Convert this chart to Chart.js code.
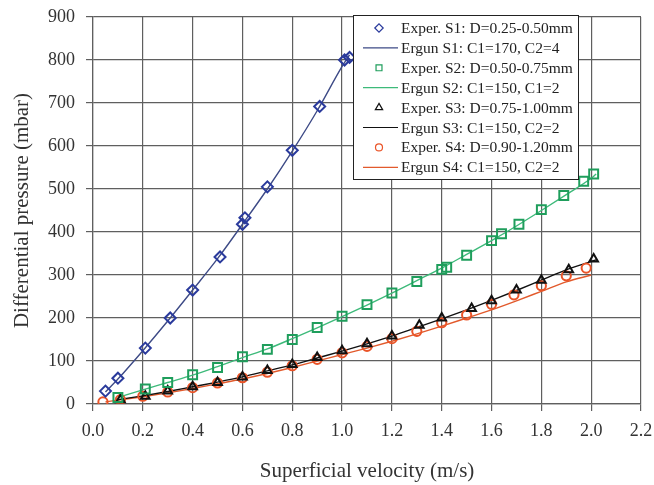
<!DOCTYPE html>
<html>
<head>
<meta charset="utf-8">
<script src="https://cdn.jsdelivr.net/npm/chart.js@4/dist/chart.umd.min.js"></script>
<style>
html,body{margin:0;padding:0;background:#fff;}
#wrap{width:654px;height:485px;position:relative;}
</style>
</head>
<body>
<div id="wrap"><canvas id="c" width="654" height="485"></canvas></div>
<script>
// ---- data ----
const xTicks = [0.0,0.2,0.4,0.6,0.8,1.0,1.2,1.4,1.6,1.8,2.0,2.2];
const yTicks = [0,100,200,300,400,500,600,700,800,900];

const s1ExpX = [0.05,0.10,0.21,0.31,0.40,0.51,0.60,0.61,0.70,0.80,0.91,1.01,1.03];
const s1ExpY = [30,60,130,200,265,342,418,433,505,590,692,800,806];
const s1ErgX = [0.05,0.10,0.20,0.30,0.40,0.50,0.60,0.70,0.80,0.90,1.00,1.03];
const s1ErgY = [28,58,124,193,265,338,418,500,588,682,785,812];

const s2ExpX = [0.10,0.21,0.30,0.40,0.50,0.60,0.70,0.80,0.90,1.00,1.10,1.20,1.30,1.40,1.42,1.50,1.60,1.64,1.71,1.80,1.89,1.97,2.01];
const s2ExpY = [15,35,50,68,85,110,127,150,178,204,231,258,285,313,318,346,380,396,418,452,485,518,535];
const s2ErgX = [0.10,0.20,0.30,0.40,0.50,0.60,0.70,0.80,0.90,1.00,1.10,1.20,1.30,1.40,1.50,1.60,1.70,1.80,1.90,2.00,2.02];
const s2ErgY = [15,33,50,67,87,108,128,152,177,203,230,258,287,316,348,380,414,450,487,525,535];

const s3ExpX = [0.11,0.21,0.30,0.40,0.50,0.60,0.70,0.80,0.90,1.00,1.10,1.20,1.31,1.40,1.52,1.60,1.70,1.80,1.91,2.01];
const s3ExpY = [10,18,30,40,50,63,78,92,108,124,140,158,183,200,222,240,265,288,312,337];
const s3ErgX = [0.10,0.20,0.30,0.40,0.50,0.60,0.70,0.80,0.90,1.00,1.10,1.20,1.30,1.40,1.50,1.60,1.70,1.80,1.90,2.02];
const s3ErgY = [10,19,29,40,51,63,77,91,107,123,140,158,178,198,219,241,264,288,312,335];

const s4ExpX = [0.04,0.11,0.20,0.30,0.40,0.50,0.60,0.70,0.80,0.90,1.00,1.10,1.20,1.30,1.40,1.50,1.60,1.69,1.80,1.90,1.98];
const s4ExpY = [5,10,18,28,38,49,61,74,89,104,119,134,152,169,189,207,232,254,275,298,316];
const s4ErgX = [0.05,0.10,0.20,0.30,0.40,0.50,0.60,0.70,0.80,0.90,1.00,1.10,1.20,1.30,1.40,1.50,1.60,1.70,1.80,1.90,2.00];
const s4ErgY = [5,9,17,26,36,47,58,71,85,100,115,130,146,163,181,200,219,240,262,284,300];

const labels = [
  "Exper. S1: D=0.25-0.50mm",
  "Ergun S1: C1=170, C2=4",
  "Exper. S2: D=0.50-0.75mm",
  "Ergun S2: C1=150, C1=2",
  "Exper. S3: D=0.75-1.00mm",
  "Ergun S3: C1=150, C2=2",
  "Exper. S4: D=0.90-1.20mm",
  "Ergun S4: C1=150, C2=2"
];

const pts = (xs, ys) => xs.map((x, i) => ({x: x, y: ys[i]}));

const cBlue = '#2a3a9c', cBlueLine = '#3d4a86';
const cGreen = '#1f9e5c', cGreenLine = '#3dba7a';
const cBlack = '#111111';
const cRed = '#ea5428', cRedLine = '#e25a2c';

function expSet(label, data, color, style, r) {
  return {label, data, showLine:false, pointStyle:style, pointRadius:r, pointHoverRadius:r,
    borderColor:color, backgroundColor:'rgba(0,0,0,0)', pointBorderWidth:2, order:1};
}
function ergSet(label, data, color) {
  return {label, data, showLine:true, pointRadius:0, borderColor:color, borderWidth:1.4,
    backgroundColor:color, tension:0.4, cubicInterpolationMode:'monotone', order:2};
}

const datasets = [
  expSet(labels[0], pts(s1ExpX, s1ExpY), cBlue, 'rectRot', 5.5),
  ergSet(labels[1], pts(s1ErgX, s1ErgY), cBlueLine),
  expSet(labels[2], pts(s2ExpX, s2ExpY), cGreen, 'rect', 6.3),
  ergSet(labels[3], pts(s2ErgX, s2ErgY), cGreenLine),
  expSet(labels[4], pts(s3ExpX, s3ExpY), cBlack, 'triangle', 5),
  ergSet(labels[5], pts(s3ErgX, s3ErgY), cBlack),
  expSet(labels[6], pts(s4ExpX, s4ExpY), cRed, 'circle', 4.6),
  ergSet(labels[7], pts(s4ErgX, s4ErgY), cRedLine)
];

const gridColor = '#5f5f5f';
const serif = '"Liberation Serif", "Times New Roman", serif';

new Chart(document.getElementById('c'), {
  type: 'scatter',
  data: { datasets },
  plugins: [{
    id: 'legendBox',
    afterDraw(chart) {
      const ctx = chart.ctx;
      const x0 = 353.5, y0 = 15.5, w = 225, h = 164;
      ctx.save();
      ctx.fillStyle = '#fff';
      ctx.fillRect(x0, y0, w, h);
      ctx.strokeStyle = '#222';
      ctx.lineWidth = 1;
      ctx.strokeRect(x0, y0, w, h);
      ctx.font = '15.5px ' + serif;
      ctx.textBaseline = 'middle';
      ctx.textAlign = 'left';
      chart.data.datasets.forEach((ds, i) => {
        const yc = 28 + i * 19.9;
        ctx.strokeStyle = ds.borderColor;
        ctx.fillStyle = 'rgba(0,0,0,0)';
        ctx.lineWidth = 1.2;
        if (ds.showLine) {
          ctx.beginPath();
          ctx.moveTo(363, yc);
          ctx.lineTo(398, yc);
          ctx.stroke();
        } else {
          Chart.helpers.drawPoint(ctx, {pointStyle: ds.pointStyle, radius: ds.pointStyle === 'circle' ? 3.5 : 4.2, borderWidth: 1.2, rotation: 0}, 379, yc);
        }
        ctx.fillStyle = '#222';
        ctx.fillText(ds.label, 401, yc + 1);
      });
      ctx.restore();
    }
  }],
  options: {
    responsive: false,
    animation: false,
    devicePixelRatio: 1,
    layout: { padding: { left: 0, right: 13, top: 17, bottom: 0 } },
    plugins: { legend: { display: false }, tooltip: { enabled: false } },
    scales: {
      x: {
        type: 'linear', min: 0, max: 2.2,
        afterBuildTicks(axis) { axis.ticks = xTicks.map(v => ({value: v})); },
        afterFit(axis) { axis.height = 81; axis.paddingLeft = 0; axis.paddingRight = 0; },
        ticks: { callback: v => v.toFixed(1), font: { family: serif, size: 18 }, color: '#333', padding: 9, maxRotation: 0 },
        grid: { color: gridColor, lineWidth: 1.2, tickLength: 7, tickColor: gridColor },
        border: { color: gridColor, width: 1.2 },
        title: { display: true, text: 'Superficial velocity (m/s)', font: { family: serif, size: 21 }, color: '#333', padding: { top: 0, bottom: 1 } }
      },
      y: {
        type: 'linear', min: 0, max: 900,
        afterBuildTicks(axis) { axis.ticks = yTicks.map(v => ({value: v})); },
        afterFit(axis) { axis.width = 93; axis.paddingTop = 0; axis.paddingBottom = 0; },
        ticks: { font: { family: serif, size: 18 }, color: '#333', padding: 11 },
        grid: { color: gridColor, lineWidth: 1.2, tickLength: 7, tickColor: gridColor },
        border: { color: gridColor, width: 1.2 },
        title: { display: true, text: 'Differential pressure (mbar)', font: { family: serif, size: 21 }, color: '#333', padding: { top: 10, bottom: 0 } }
      }
    }
  }
});
</script>
</body>
</html>
